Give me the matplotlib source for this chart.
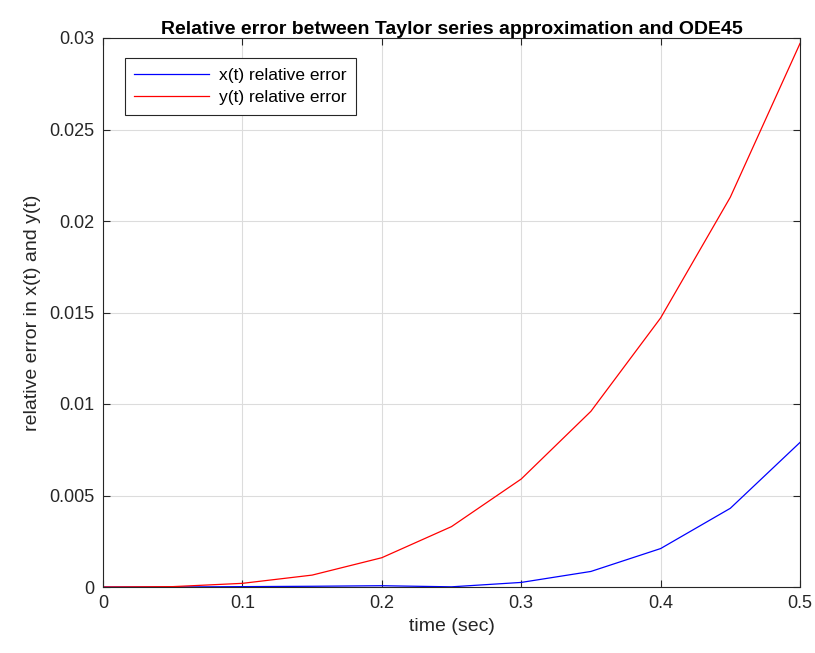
import numpy as np
import matplotlib
matplotlib.use("Agg")
import matplotlib.pyplot as plt

plt.rcParams['font.family'] = ['Liberation Sans', 'DejaVu Sans']

t = [0, 0.05, 0.1, 0.15, 0.2, 0.25, 0.3, 0.35, 0.4, 0.45, 0.5]
x_err = [0, 0, 0.00002, 0.00004, 0.00007, 0.00001, 0.00025, 0.00085, 0.0021, 0.0043, 0.0079]
y_err = [0, 0.00002, 0.0002, 0.00065, 0.0016, 0.0033, 0.0059, 0.0096, 0.0147, 0.0213, 0.0297]

fig = plt.figure(figsize=(8.15, 6.53), dpi=100)
ax = fig.add_axes([103/815, 1-587/653, 697/815, 549/653])
ax.plot(t, x_err, color='blue', lw=0.9, label='x(t) relative error')
ax.plot(t, y_err, color='red', lw=0.9, label='y(t) relative error')
ax.set_xlim(0, 0.5)
ax.set_ylim(0, 0.03)
ax.set_xticks(np.arange(0, 0.51, 0.1))
ax.set_xticklabels(['0', '0.1', '0.2', '0.3', '0.4', '0.5'])
ax.set_yticks(np.arange(0, 0.0301, 0.005))
ax.set_yticklabels(['0', '0.005', '0.01', '0.015', '0.02', '0.025', '0.03'])
ax.grid(True, color='#dcdcdc', lw=0.8)
ax.tick_params(labelsize=13, direction='in', length=5, color='#262626', labelcolor='#262626',
               top=True, right=True, pad=6)
ax.set_xlabel('time (sec)', fontsize=14, color='#262626', labelpad=4)
ax.set_ylabel('relative error in x(t) and y(t)', fontsize=14, color='#262626', labelpad=6)
ax.set_title('Relative error between Taylor series approximation and ODE45',
             fontsize=14, fontweight='bold', pad=3)
for s in ax.spines.values():
    s.set_color('#262626')
    s.set_linewidth(0.8)
leg = ax.legend(loc='upper left', bbox_to_anchor=(0.031, 0.963), fontsize=12.5,
                fancybox=False, edgecolor='#262626', framealpha=1, handlelength=4.3,
                borderpad=0.55, labelspacing=0.4, handletextpad=0.6, borderaxespad=0)
leg.get_frame().set_linewidth(0.8)
fig.savefig('out.png', dpi=100)
